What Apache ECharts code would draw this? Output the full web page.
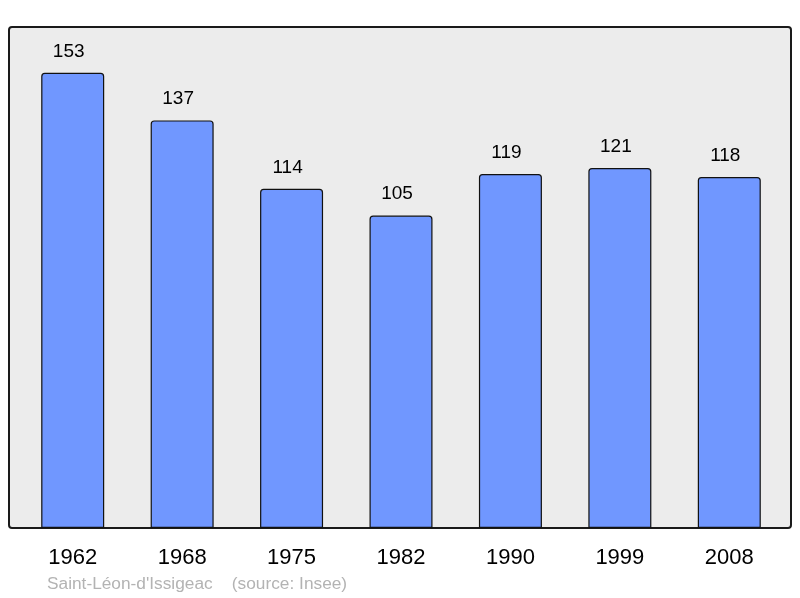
<!DOCTYPE html>
<html><head><meta charset="utf-8">
<script src="https://cdn.jsdelivr.net/npm/echarts@6/dist/echarts.min.js"></script>
<style>html,body{margin:0;padding:0;background:#fff}#c{width:800px;height:598px}</style>
</head><body><div id="c"></div>
<script>
var years = ['1962','1968','1975','1982','1990','1999','2008'];
var population = [153,137,114,105,119,121,118];
var sourceText = "Saint-Léon-d'Issigeac    (source: Insee)";

var chart = echarts.init(document.getElementById('c'));
chart.setOption({
  animation: false,
  title: {
    text: sourceText, left: 47, top: 576, padding: 0,
    textStyle: {fontFamily: 'Liberation Sans', fontSize: 17.3, fontWeight: 'normal', color: '#b3b3b3'}
  },
  graphic: [{
    type: 'rect', z: -10,
    shape: {x: 9, y: 27, width: 782, height: 501, r: 3},
    style: {fill: '#ececec', stroke: '#1a1a1a', lineWidth: 2}
  }],
  grid: {left: 18, right: 16, top: 27, bottom: 70},
  xAxis: {
    type: 'category', data: years,
    axisLine: {show: false}, axisTick: {show: false},
    axisLabel: {fontFamily: 'Liberation Sans', fontSize: 22, color: '#000', margin: 19}
  },
  yAxis: {
    type: 'value', min: 0, max: 168.4,
    show: false, splitLine: {show: false}
  },
  series: [{
    type: 'bar', data: population, barWidth: 63,
    itemStyle: {color: '#7097ff', borderColor: '#111', borderWidth: 1.2, borderRadius: [3,3,0,0]},
    label: {show: true, position: 'top', distance: 12, offset: [-4, 0],
      fontFamily: 'Liberation Sans', fontSize: 19, color: '#000'}
  }]
});
</script></body></html>
